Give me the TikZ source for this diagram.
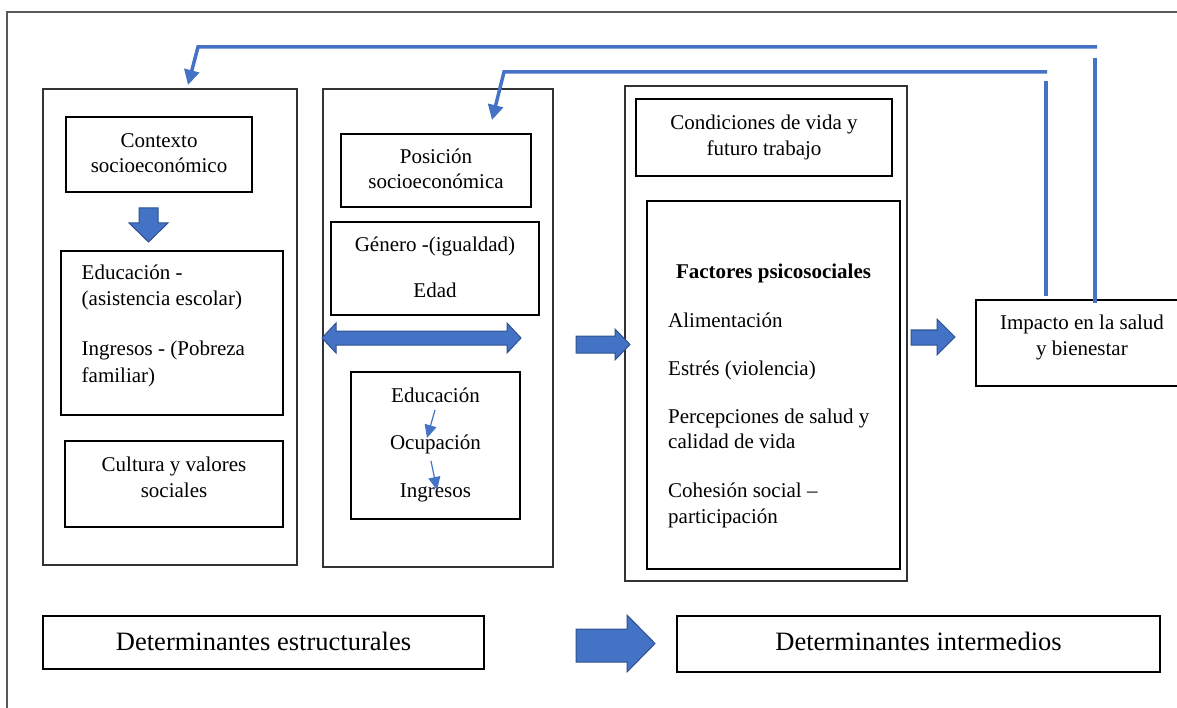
\documentclass[tikz,border=0pt]{standalone}
\usepackage{fontspec}
\setmainfont{Liberation Serif}
\usetikzlibrary{arrows.meta}
\definecolor{blu}{HTML}{4472C4}
\definecolor{bludark}{HTML}{2F528F}
\definecolor{framegray}{HTML}{595959}
\begin{document}
\begin{tikzpicture}[x=1pt,y=-1pt,
  box/.style={draw=black, line width=1.2pt, inner sep=0pt},
  colbox/.style={draw=black!80, line width=1.4pt, inner sep=0pt},
  txt/.style={inner sep=0pt, font=\fontsize{21}{25}\selectfont, anchor=base},
  txtl/.style={txt, anchor=base west},
  bigtxt/.style={inner sep=0pt, font=\fontsize{26.5}{30}\selectfont, anchor=base},
  blockarrow/.style={fill=blu, draw=bludark, line width=1pt, line join=miter},
  fb/.style={draw=blu, line width=3.5pt},
  fbarrow/.style={draw=blu, line width=3.5pt, line join=miter, -{Triangle[length=15pt,width=15pt]}},
  smallarrow/.style={draw=blu, line width=1.2pt, -{Triangle[length=13pt,width=12pt]}}
]
\useasboundingbox (0,0) rectangle (1177,708);
\fill[white] (0,0) rectangle (1177,708);

% outer frame (open at right and bottom, clipped by the page)
\draw[framegray, line width=1.5pt] (7,730) -- (7,12) -- (1200,12);

% column boxes
\node[colbox, minimum width=254pt, minimum height=476pt] (L) at (170,327) {};
\node[colbox, minimum width=230pt, minimum height=478pt] (M) at (438,328) {};
\node[colbox, minimum width=282pt, minimum height=495pt] (R) at (766,333.5) {};

% inner boxes
\node[box, minimum width=186pt, minimum height=75pt] (ctx) at (159,154.5) {};
\node[box, minimum width=222pt, minimum height=164pt] (edu) at (172,333) {};
\node[box, minimum width=218pt, minimum height=86pt] (cul) at (174,484) {};
\node[box, minimum width=190pt, minimum height=73pt] (pos) at (436,170.5) {};
\node[box, minimum width=208pt, minimum height=93pt] (gen) at (435,268.5) {};
\node[box, minimum width=169pt, minimum height=147pt] (eoi) at (435.5,445.5) {};
\node[box, minimum width=256pt, minimum height=77pt] (cond) at (764,137.5) {};
\node[box, minimum width=253pt, minimum height=368pt] (fac) at (773.5,385) {};
\node[box, minimum width=214pt, minimum height=86pt] (imp) at (1083,343) {};
\node[box, minimum width=441pt, minimum height=53pt] (des) at (263.5,642.5) {};
\node[box, minimum width=483pt, minimum height=56pt] (din) at (918.5,644) {};

% texts
\node[txt] (t1) at (159,148) {Contexto};
\node[txt] (t2) at (159,173) {socioeconómico};
\node[txtl] (t3) at (81.5,280) {Educación -};
\node[txtl] (t4) at (81.5,306) {(asistencia escolar)};
\node[txtl] (t5) at (81.5,355) {Ingresos - (Pobreza};
\node[txtl] (t6) at (81.5,382) {familiar)};
\node[txt] (t7) at (174,471) {Cultura y valores};
\node[txt] (t8) at (174,497) {sociales};
\node[txt] (t9) at (436,164) {Posición};
\node[txt] (t10) at (436,189) {socioeconómica};
\node[txt] (t11) at (435,252) {Género -(igualdad)};
\node[txt] (t12) at (435,298) {Edad};
\node[txt] (t13) at (435.5,402) {Educación};
\node[txt] (t14) at (435.5,449) {Ocupación};
\node[txt] (t15) at (435.5,497) {Ingresos};
\node[txt] (t16) at (764,130) {Condiciones de vida y};
\node[txt] (t17) at (764,156) {futuro trabajo};
\node[txt, font=\fontsize{21}{25}\selectfont\bfseries] (t18) at (773.5,279) {Factores psicosociales};
\node[txtl] (t19) at (668,327) {Alimentación};
\node[txtl] (t20) at (668,375) {Estrés (violencia)};
\node[txtl] (t21) at (668,423) {Percepciones de salud y};
\node[txtl] (t22) at (668,448) {calidad de vida};
\node[txtl] (t23) at (668,497) {Cohesión social –};
\node[txtl] (t24) at (668,523) {participación};
\node[txt] (t25) at (1082,330) {Impacto en la salud};
\node[txt] (t26) at (1082,355) {y bienestar};
\node[bigtxt] (t27) at (263.5,650) {Determinantes estructurales};
\node[bigtxt] (t28) at (918.5,650) {Determinantes intermedios};

% block arrows
\filldraw[blockarrow] (139,208) -- (158,208) -- (158,223) -- (168,223) -- (148.5,242) -- (129,223) -- (139,223) -- cycle;
\filldraw[blockarrow] (322,338) -- (336,323) -- (336,331) -- (507,331) -- (507,323) -- (521,338) -- (507,353) -- (507,345) -- (336,345) -- (336,353) -- cycle;
\filldraw[blockarrow] (576,336) -- (615,336) -- (615,329) -- (630,344.5) -- (615,360) -- (615,353) -- (576,353) -- cycle;
\filldraw[blockarrow] (911,330) -- (937,330) -- (937,319) -- (955,337) -- (937,355) -- (937,345) -- (911,345) -- cycle;
\filldraw[blockarrow] (576,629) -- (627,629) -- (627,615) -- (655,643.5) -- (627,672) -- (627,662) -- (576,662) -- cycle;

% feedback lines
\coordinate (v1b) at (1095,303);
\coordinate (v1t) at (1095,58);
\coordinate (h1r) at (1097,47);
\coordinate (h1l) at (198,47);
\coordinate (a1) at (188,85);
\coordinate (v2b) at (1046,296);
\coordinate (v2t) at (1046,81);
\coordinate (h2r) at (1047,72);
\coordinate (h2l) at (504,72);
\coordinate (a2) at (492,120);
\draw[fb] (v1b) -- (v1t);
\draw[fbarrow] (h1r) -- (h1l) -- (a1);
\draw[fb] (v2b) -- (v2t);
\draw[fbarrow] (h2r) -- (h2l) -- (a2);

% small arrows inside the box
\coordinate (s1a) at (435,410);
\coordinate (s1b) at (427,438);
\coordinate (s2a) at (431,461);
\coordinate (s2b) at (437,490);
\draw[smallarrow] (s1a) -- (s1b);
\draw[smallarrow] (s2a) -- (s2b);
\end{tikzpicture}
\end{document}
